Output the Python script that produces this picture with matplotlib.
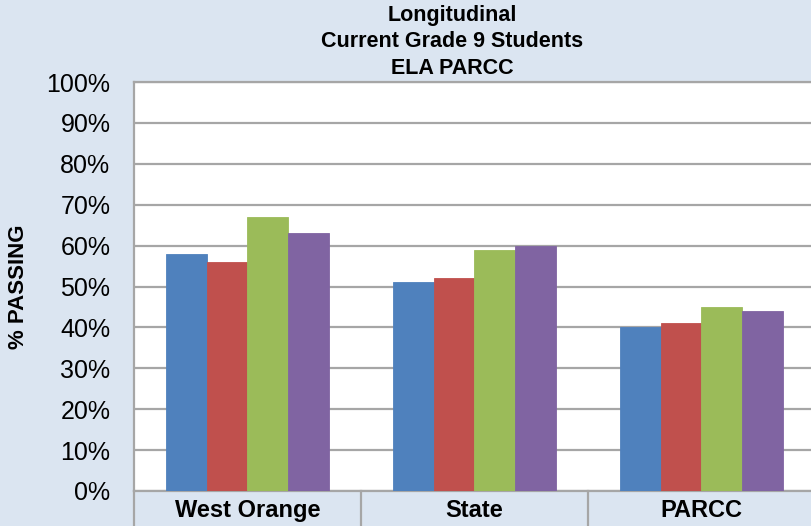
import matplotlib
matplotlib.use("Agg")
import matplotlib.pyplot as plt
import matplotlib.transforms as mtransforms
import numpy as np

categories = ["West Orange", "State", "PARCC"]
series_names = ["Year 1", "Year 2", "Year 3", "Year 4"]
series_values = [
    [58, 51, 40],
    [56, 52, 41],
    [67, 59, 45],
    [63, 60, 44],
]
series_colors = ["#4f81bd", "#c0504d", "#9bbb59", "#8064a2"]
y_ticks = list(range(0, 101, 10))
y_ticklabels = [f"{t}%" for t in y_ticks]
title_lines = ["Longitudinal", "Current Grade 9 Students", "ELA PARCC"]

bg = "#dbe5f1"
grid_col = "#a6a6a6"
font = "Liberation Sans"

fig = plt.figure(figsize=(8.11, 5.26), dpi=100, facecolor=bg)
ax = fig.add_axes([134 / 811, 1 - 491 / 526, 681 / 811, 409 / 526])
ax.set_facecolor("white")

x = np.arange(len(categories))
bar_w = 0.18
n = len(series_values)
for i, (vals, col) in enumerate(zip(series_values, series_colors)):
    offs = (i - (n - 1) / 2) * bar_w
    ax.bar(x + offs, vals, width=bar_w, color=col, edgecolor=col,
           linewidth=0.6, zorder=3, label=series_names[i])

ax.set_xlim(-0.5, len(categories) - 0.5)
ax.set_ylim(0, 100)
ax.set_yticks(y_ticks)
ax.set_yticklabels(y_ticklabels, fontsize=18, family=font)
ax.tick_params(axis="y", length=0, pad=17)
ax.yaxis.grid(True, color=grid_col, linewidth=1.6, zorder=1)
ax.set_axisbelow(True)

ax.set_xticks(x)
ax.set_xticklabels(categories, fontsize=17, fontweight="bold", family=font)
ax.tick_params(axis="x", length=0, pad=6)

for side in ["top", "right", "left", "bottom"]:
    ax.spines[side].set_color(grid_col)
    ax.spines[side].set_linewidth(1.6)

# category table separators below the plot
trans = mtransforms.blended_transform_factory(ax.transData, ax.transAxes)
for b in np.arange(-0.5, len(categories), 1.0):
    ax.plot([b, b], [0, -0.12], transform=trans, color=grid_col,
            linewidth=1.6, clip_on=False)

ax.set_ylabel("% PASSING", fontsize=16, fontweight="bold", family=font)
ax.yaxis.set_label_coords(-0.154, 0.5)

for k, line in enumerate(title_lines):
    fig.text(452 / 811, 1 - (15 + 26.5 * k) / 526, line, ha="center",
             va="center", fontsize=15.5, fontweight="bold", family=font)

fig.savefig("out.png", dpi=100, facecolor=bg)
